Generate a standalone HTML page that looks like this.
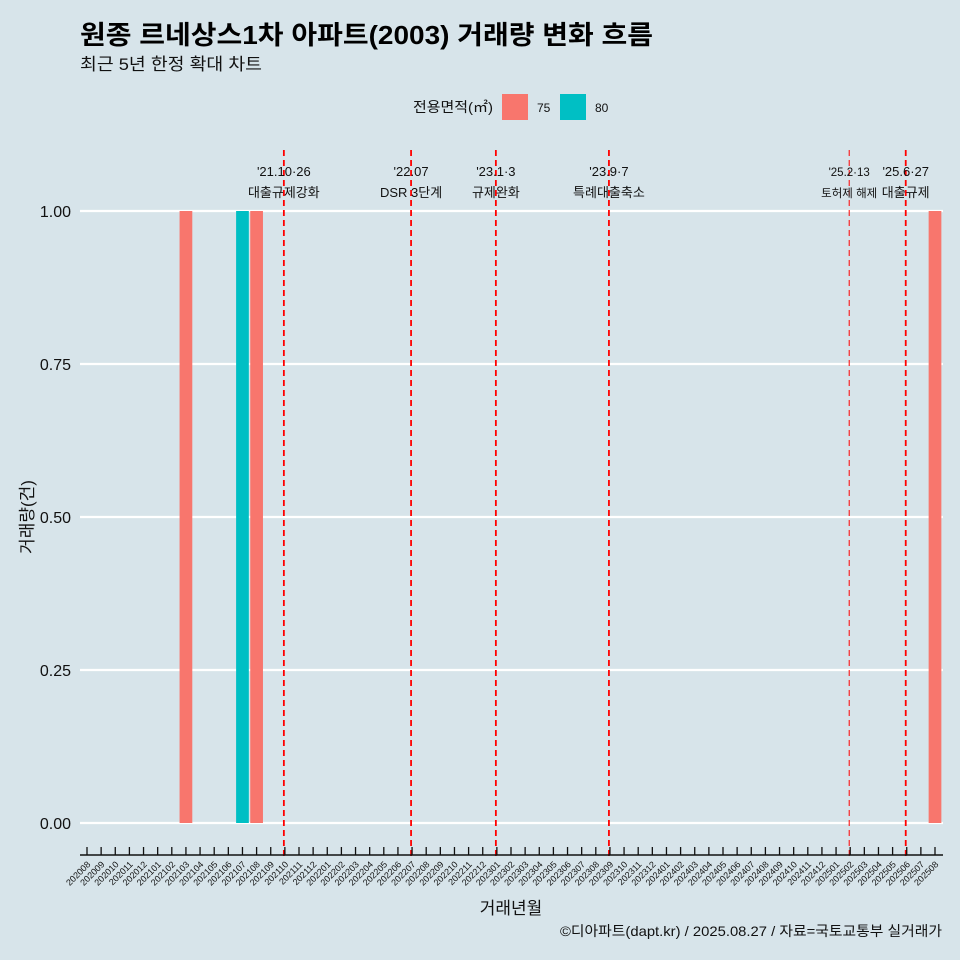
<!DOCTYPE html>
<html><head><meta charset="utf-8"><style>
body{margin:0;background:#d7e4ea;}
svg{display:block;font-family:"Liberation Sans","Noto Sans CJK KR",sans-serif;}
</style></head><body>
<svg id="c" width="960" height="960" viewBox="0 0 960 960">
<rect width="960" height="960" fill="#d7e4ea"/>
<text x="80" y="44" font-size="26" font-weight="bold" fill="#000" textLength="573" lengthAdjust="spacingAndGlyphs">원종 르네상스1차 아파트(2003) 거래량 변화 흐름</text>
<text x="80" y="70" font-size="17" fill="#111" textLength="182" lengthAdjust="spacingAndGlyphs">최근 5년 한정 확대 차트</text>
<g>
<text x="413" y="112" font-size="14" fill="#111" textLength="80" lengthAdjust="spacingAndGlyphs">전용면적(㎡)</text>
<rect x="502" y="94" width="26" height="26" fill="#f8766d"/>
<text x="537" y="112" font-size="12" fill="#111">75</text>
<rect x="560" y="94" width="26" height="26" fill="#00bfc4"/>
<text x="595" y="112" font-size="12" fill="#111">80</text>
</g>
<g id="grid"></g><g id="bars"></g><g id="vlines"></g><g id="axes"></g>
<text transform="translate(33,517) rotate(-90)" text-anchor="middle" font-size="17" fill="#111">거래량(건)</text>
<text x="511" y="914" text-anchor="middle" font-size="17" fill="#111">거래년월</text>
<text x="560" y="936" font-size="14" fill="#111" textLength="382" lengthAdjust="spacingAndGlyphs">©디아파트(dapt.kr) / 2025.08.27 / 자료=국토교통부 실거래가</text>
</svg>
<script>
const months = [];
for (let y = 2020, m = 8; !(y === 2025 && m === 9); m++) { if (m > 12) { m = 1; y++; } if (y === 2025 && m === 9) break; months.push(String(y) + String(m).padStart(2, '0')); }
const barMonths = ['202103', '202107', '202108', '202508'];
const barValues = [1, 1, 1, 1];
const barArea = ['75', '80', '75', '75'];
const yTicks = [0, 0.25, 0.5, 0.75, 1];
const eventMonths = ['202110', '202207', '202301', '202309', '202502', '202506'];
const eventLine1 = ["'21.10·26", "'22.07", "'23.1·3", "'23.9·7", "'25.2·13", "'25.6·27"];
const eventLine2 = ['대출규제강화', 'DSR 3단계', '규제완화', '특례대출축소', '토허제 해제', '대출규제'];

const NS = 'http://www.w3.org/2000/svg';
const x = m => 87 + (935 - 87) / (months.length - 1) * months.indexOf(m);
const y = v => 823 - v * (823 - 211);
const step = (935 - 87) / (months.length - 1);
const colors = {'75': '#f8766d', '80': '#00bfc4'};
function mk(tag, attrs, parent, txt) { const e = document.createElementNS(NS, tag); for (const k in attrs) e.setAttribute(k, attrs[k]); if (txt !== undefined) e.textContent = txt; document.getElementById(parent).appendChild(e); return e; }

yTicks.forEach(t => {
  const l = mk('line', {x1: 80, x2: 943, y1: y(t), y2: y(t), stroke: '#fff', 'stroke-width': 2.2}, 'grid');
  
  
  const tx = mk('text', {x: 71, y: y(t) + 6, 'text-anchor': 'end', 'font-size': 16, fill: '#111'}, 'grid', t.toFixed(2));
  
  
});
barMonths.forEach((m, i) => {
  const w = step * 0.9;
  const r = mk('rect', {x: x(m) - w / 2, y: y(barValues[i]), width: w, height: y(0) - y(barValues[i]), fill: colors[barArea[i]]}, 'bars');
  
  
});
eventMonths.forEach((m, i) => {
  const thin = m === '202502';
  const l = mk('line', {x1: x(m) - 1, x2: x(m) - 1, y1: 150, y2: 856, stroke: '#ff0000', 'stroke-width': thin ? 1 : 1.8, 'stroke-dasharray': '6 4'}, 'vlines');
  
  
  const fs = thin ? 11.5 : 13;
  const t1 = mk('text', {x: x(m) - 1, y: 176, 'text-anchor': 'middle', 'font-size': fs, fill: '#111'}, 'vlines', eventLine1[i]);
  
  
  const t2 = mk('text', {x: x(m) - 1, y: 197, 'text-anchor': 'middle', 'font-size': fs, fill: '#111'}, 'vlines', eventLine2[i]);
  
  
});
const ax = mk('line', {x1: 80, x2: 943, y1: 855, y2: 855, stroke: '#111', 'stroke-width': 1.5}, 'axes');


months.forEach(m => {
  const tk = mk('line', {x1: x(m), x2: x(m), y1: 847, y2: 855, stroke: '#111', 'stroke-width': 1.3}, 'axes');
  
  
  const tl = mk('text', {x: x(m) + 4, y: 865, 'text-anchor': 'end', 'font-size': 9, fill: '#111', transform: 'rotate(-45 ' + (x(m) + 4) + ' 865)'}, 'axes', m);
  
  
});
</script>
</body></html>
